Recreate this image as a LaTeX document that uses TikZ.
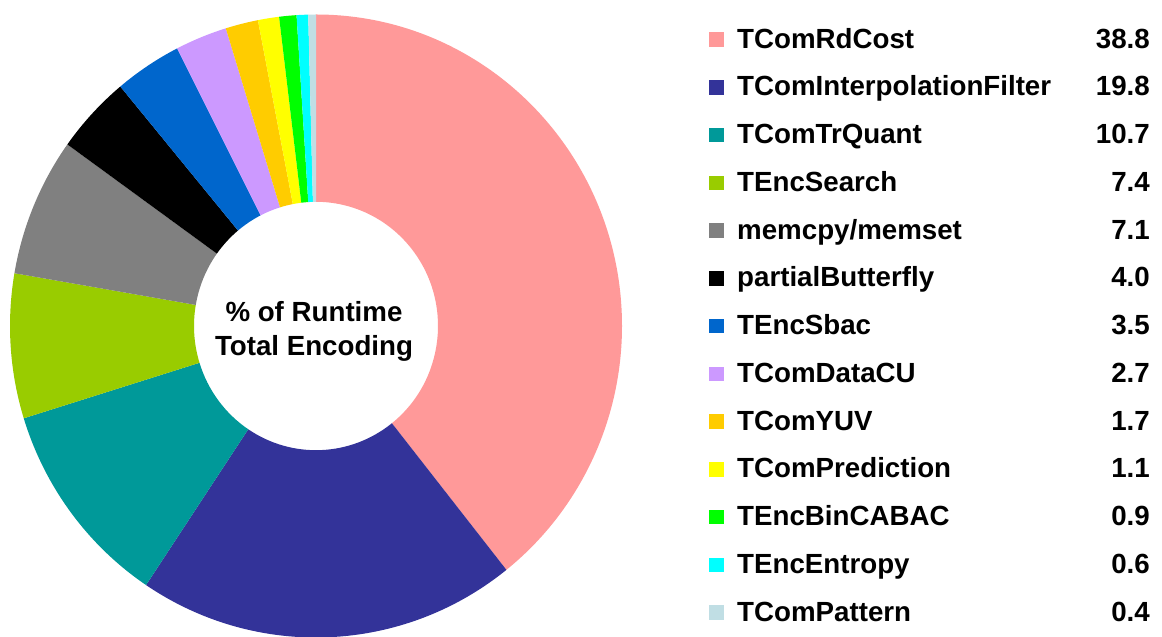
\documentclass[tikz,border=0pt]{standalone}
\usepackage{fontspec}
\setmainfont{Liberation Sans}

% slice colours
\definecolor{cRdCost}{HTML}{FF9999}
\definecolor{cInterp}{HTML}{333399}
\definecolor{cTrQuant}{HTML}{009999}
\definecolor{cSearch}{HTML}{99CC00}
\definecolor{cMem}{HTML}{808080}
\definecolor{cButterfly}{HTML}{000000}
\definecolor{cSbac}{HTML}{0066CC}
\definecolor{cDataCU}{HTML}{CC99FF}
\definecolor{cYUV}{HTML}{FFCC00}
\definecolor{cPred}{HTML}{FFFF00}
\definecolor{cCABAC}{HTML}{00FF00}
\definecolor{cEntropy}{HTML}{00FFFF}
\definecolor{cPattern}{HTML}{C0DEE4}

\tikzset{
  label text/.style={font=\fontsize{27.7}{33}\selectfont\bfseries, inner sep=0pt, text=black},
  swatch/.style={minimum width=15pt, minimum height=14.5pt, inner sep=0pt, draw=none},
}

\newcommand{\Rout}{306}
\newcommand{\Rin}{122}
\newcommand{\degper}{3.647416} % 360 / 98.7

\begin{document}
\begin{tikzpicture}[x=1pt,y=1pt]
  \useasboundingbox (0,0) rectangle (1162,-637);
  \fill[white] (0,0) rectangle (1162,-637);

  % donut slices, clockwise from the top
  \begin{scope}[shift={(316,-326)}, yscale=1.018]
    \foreach \s/\e/\c in {0/38.8/cRdCost, 38.8/58.6/cInterp, 58.6/69.3/cTrQuant,
        69.3/76.7/cSearch, 76.7/83.8/cMem, 83.8/87.8/cButterfly, 87.8/91.3/cSbac,
        91.3/94.0/cDataCU, 94.0/95.7/cYUV, 95.7/96.8/cPred, 96.8/97.7/cCABAC,
        97.7/98.3/cEntropy, 98.3/98.7/cPattern} {
      \pgfmathsetmacro{\aS}{90-\s*\degper}
      \pgfmathsetmacro{\aE}{90-\e*\degper}
      \fill[\c] (\aS:\Rout) arc[start angle=\aS, end angle=\aE, radius=\Rout]
        -- (\aE:\Rin) arc[start angle=\aE, end angle=\aS, radius=\Rin] -- cycle;
    }
  \end{scope}
  \node[label text, anchor=base] (title1) at (314,-321.7) {\% of Runtime};
  \node[label text, anchor=base] (title2) at (314,-355) {Total Encoding};

  % legend
  \foreach \i/\c/\name/\val in {
      0/cRdCost/TComRdCost/38.8,
      1/cInterp/TComInterpolationFilter/19.8,
      2/cTrQuant/TComTrQuant/10.7,
      3/cSearch/TEncSearch/7.4,
      4/cMem/memcpy\slash memset/7.1,
      5/cButterfly/partialButterfly/4.0,
      6/cSbac/TEncSbac/3.5,
      7/cDataCU/TComDataCU/2.7,
      8/cYUV/TComYUV/1.7,
      9/cPred/TComPrediction/1.1,
      10/cCABAC/TEncBinCABAC/0.9,
      11/cEntropy/TEncEntropy/0.6,
      12/cPattern/TComPattern/0.4} {
    \pgfmathsetmacro{\yc}{-(39.5+47.75*\i)}
    \node[swatch, fill=\c] (sw\i) at (716,\yc) {};
    \node[label text, anchor=base west] (nm\i) at (737,\yc-8.6) {\name};
    \node[label text, anchor=base east] (val\i) at (1150,\yc-8.6) {\val};
  }
\end{tikzpicture}
\end{document}
